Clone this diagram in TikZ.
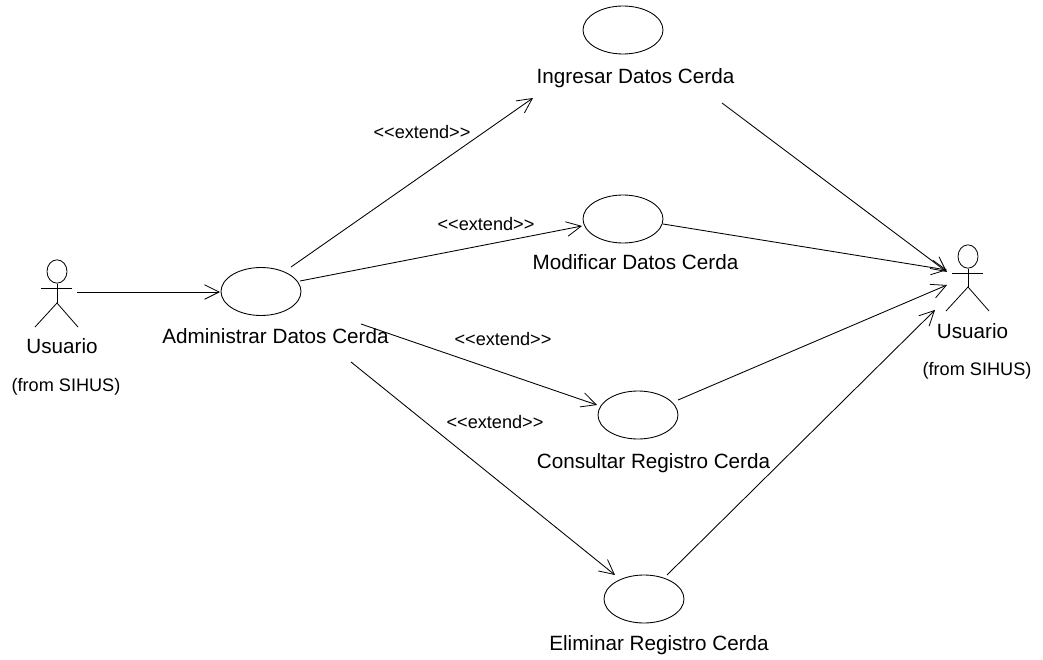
\documentclass[tikz,border=0pt]{standalone}
\usepackage{fontspec}
\setmainfont{Liberation Sans}
\usetikzlibrary{shapes.geometric,arrows.meta}
\tikzset{
 uc/.style={draw,ellipse,minimum width=60pt,minimum height=36pt,inner sep=0pt,line width=0.65pt},
 lbl/.style={inner sep=0pt,font=\fontsize{15.5}{18}\selectfont,text=black},
 small/.style={inner sep=0pt,font=\fontsize{13.6}{16}\selectfont,text=black},
 assoc/.style={line width=0.65pt,-{Straight Barb[length=11pt,width=11pt,line width=0.6pt]}},
 stick/.style={line width=0.6pt},
 head/.style={draw,ellipse,minimum width=15pt,minimum height=17.5pt,inner sep=0pt,line width=0.6pt}
}
\begin{document}
\begin{tikzpicture}[x=0.75pt,y=-0.75pt]
\useasboundingbox (0,0) rectangle (1043,660);
% use cases
\node[uc] (ing) at (623,30) {};
\node[uc] (mod) at (623,219) {};
\node[uc] (adm) at (261,291.5) {};
\node[uc] (con) at (638,415) {};
\node[uc] (eli) at (644,599) {};
\node[lbl] (ingL) at (635.5,78.5) {Ingresar Datos Cerda};
\node[lbl] (modL) at (635.5,262) {Modificar Datos Cerda};
\node[lbl] (admL) at (275.5,336.5) {Administrar Datos Cerda};
\node[lbl] (conL) at (653.5,463) {Consultar Registro Cerda};
\node[lbl] (eliL) at (659,645) {Eliminar Registro Cerda};
% left actor
\node[head] (ah) at (57,271.5) {};
\coordinate (ahip) at (57,303);
\coordinate (aarmL) at (41,288);
\coordinate (aarmR) at (72,288);
\coordinate (alegL) at (35,327);
\coordinate (alegR) at (78,327);
\draw[stick] (ah.south) -- (ahip);
\draw[stick] (aarmL) -- (aarmR);
\draw[stick] (alegL) -- (ahip) -- (alegR);
\node[lbl] (aL) at (62,346) {Usuario};
\node[small] (aF) at (66,387) {(from SIHUS)};
% right actor
\node[head] (bh) at (968,256.5) {};
\coordinate (bhip) at (968,287);
\coordinate (barmL) at (952,273);
\coordinate (barmR) at (983,273);
\coordinate (blegL) at (946,311);
\coordinate (blegR) at (989,311);
\draw[stick] (bh.south) -- (bhip);
\draw[stick] (barmL) -- (barmR);
\draw[stick] (blegL) -- (bhip) -- (blegR);
\node[lbl] (bL) at (972.5,331) {Usuario};
\node[small] (bF) at (977,371) {(from SIHUS)};
% connector ends
\coordinate (s0) at (77,292); \coordinate (e0) at (220,292);
\coordinate (s1) at (291,267); \coordinate (e1) at (533,98);
\coordinate (s2) at (300,281); \coordinate (e2) at (582,226);
\coordinate (s3) at (361,324); \coordinate (e3) at (597,405);
\coordinate (s4) at (351,362); \coordinate (e4) at (615,575);
\coordinate (s5) at (722,103); \coordinate (e5) at (947,272);
\coordinate (s6) at (663,224); \coordinate (e6) at (947,270);
\coordinate (s7) at (678,400); \coordinate (e7) at (947,285);
\coordinate (s8) at (667,575); \coordinate (e8) at (935,310);
\foreach \i in {0,...,8} \draw[assoc] (s\i) -- (e\i);
% stereotypes
\node[small] (x1) at (422,132) {<{}<extend>{}>};
\node[small] (x2) at (486,224) {<{}<extend>{}>};
\node[small] (x3) at (503,339) {<{}<extend>{}>};
\node[small] (x4) at (495,422) {<{}<extend>{}>};
\end{tikzpicture}
\end{document}
